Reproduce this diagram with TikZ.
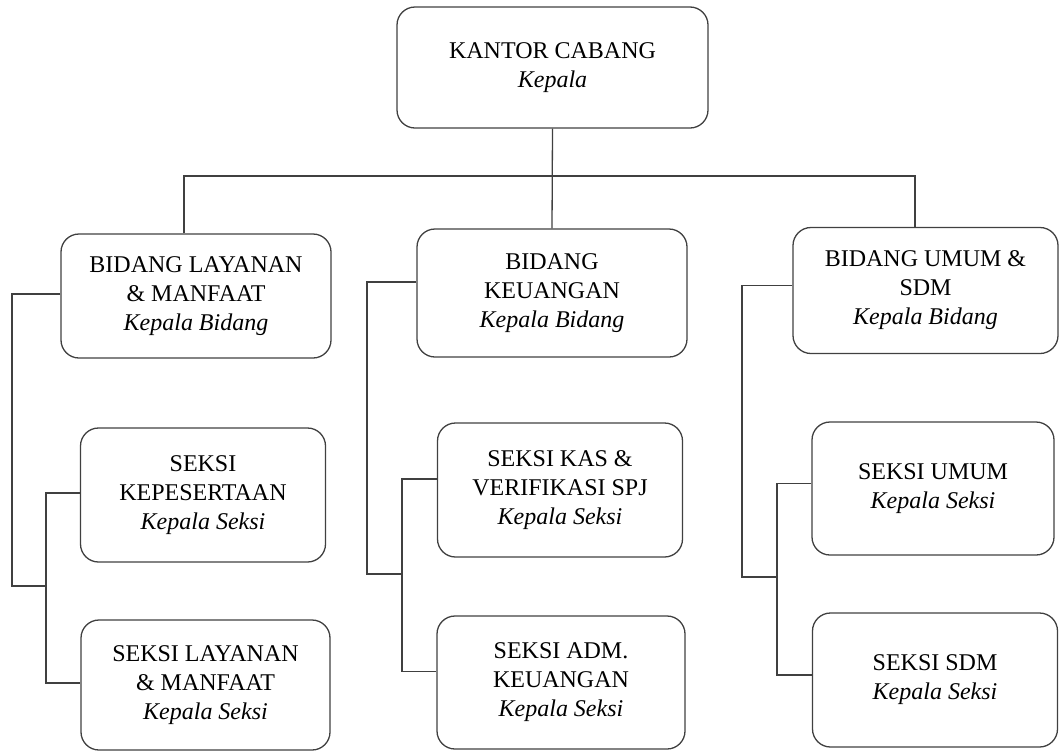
\documentclass[tikz,border=0pt]{standalone}
\usepackage{fontspec}
\setmainfont{Liberation Serif}
\definecolor{linegray}{HTML}{404040}
\tikzset{
  unitbox/.style={draw=linegray, line width=1.3pt, rounded corners=18pt, align=center, inner sep=2pt, font=\fontsize{24}{29}\selectfont},
  bidbox/.style={unitbox, minimum width=270pt, minimum height=126pt},
  seksibox/.style={unitbox, minimum width=245pt, minimum height=133pt},
  orgline/.style={draw=linegray, line width=1.3pt},
}

\begin{document}
\begin{tikzpicture}[x=1pt, y=-1pt]
  \useasboundingbox (0,0) rectangle (1059,753);

  % kepala kantor
  \node[unitbox, minimum width=311pt, minimum height=121pt] (kantor) at (552.5,67.5) {KANTOR CABANG\\\textit{Kepala}};

  % bidang
  \node[bidbox, minimum height=124pt] (bidLayanan) at (196,296) {BIDANG LAYANAN\\\& MANFAAT\\\textit{Kepala Bidang}};
  \node[bidbox, minimum height=128pt] (bidKeuangan) at (552,293) {BIDANG\\KEUANGAN\\\textit{Kepala Bidang}};
  \node[bidbox, minimum width=265pt] (bidUmum) at (925.5,290.5) {BIDANG UMUM \&\\SDM\\\textit{Kepala Bidang}};

  % seksi
  \node[seksibox, minimum height=134pt] (skKepesertaan) at (203,495) {SEKSI\\KEPESERTAAN\\\textit{Kepala Seksi}};
  \node[seksibox, minimum width=249pt, minimum height=130pt] (skLayanan) at (205.5,685) {SEKSI LAYANAN\\\& MANFAAT\\\textit{Kepala Seksi}};
  \node[seksibox, minimum height=134pt] (skKas) at (560,490) {SEKSI KAS \&\\VERIFIKASI SPJ\\\textit{Kepala Seksi}};
  \node[seksibox, minimum width=248pt] (skAdm) at (561,682.5) {SEKSI ADM.\\KEUANGAN\\\textit{Kepala Seksi}};
  \node[seksibox, minimum width=242pt] (skUmum) at (933,488.5) {SEKSI UMUM\\\textit{Kepala Seksi}};
  \node[seksibox, minimum height=134pt] (skSdm) at (935,680) {SEKSI SDM\\\textit{Kepala Seksi}};

  % garis kantor ke bidang
  \coordinate (busL) at (184,176);
  \coordinate (busR) at (915,176);
  \draw[orgline] (kantor.south) -- (bidKeuangan.north);
  \draw[orgline] (busL |- bidLayanan.north) -- (busL) -- (busR) -- (busR |- bidUmum.north);

  % garis bidang ke seksi
  \foreach \bid/\atas/\bawah/\rx/\jx/\ry/\dy in {bidLayanan/skKepesertaan/skLayanan/12/46/586/2,
      bidKeuangan/skKas/skAdm/367/402/574/11,
      bidUmum/skUmum/skSdm/742/777/577/5}{
    \coordinate (rel\bid) at (\rx,\ry);
    \coordinate (sim\bid) at (\jx,\ry);
    \draw[orgline] ([yshift=\dy pt]\bid.west) -| (rel\bid) -- (sim\bid);
    \draw[orgline] ([yshift=\dy pt]\atas.west) -| (sim\bid) |- ([yshift=\dy pt]\bawah.west);
  }
\end{tikzpicture}
\end{document}
